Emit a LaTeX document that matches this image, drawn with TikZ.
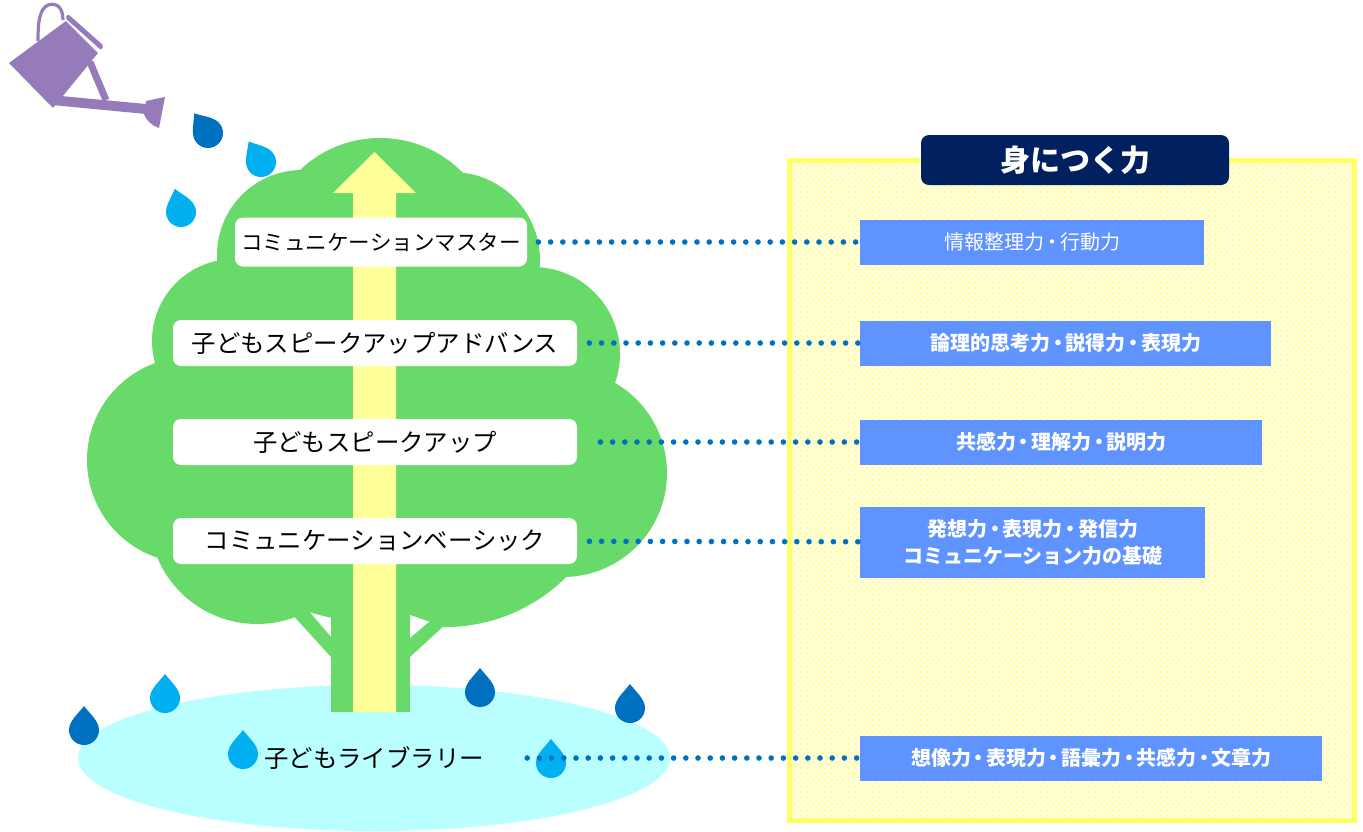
\documentclass[tikz,border=0pt]{standalone}
\usepackage{fontspec}
\setmainfont{Noto Sans CJK JP}
\usetikzlibrary{patterns}

\definecolor{leaf}{RGB}{103,218,106}
\definecolor{shaft}{RGB}{255,255,153}
\definecolor{pond}{RGB}{185,255,255}
\definecolor{dropdark}{RGB}{0,112,192}
\definecolor{droplight}{RGB}{0,176,240}
\definecolor{skillblue}{RGB}{95,147,255}
\definecolor{navy}{RGB}{0,32,96}
\definecolor{panelyellow}{RGB}{255,255,102}
\definecolor{canpurple}{RGB}{150,123,186}

\def\skillx{860}
\newcommand\nakaten{\kern-0.12em・\kern-0.12em}

\tikzset{pics/raindrop/.style={code={
  \fill[#1] (0pt,12pt) .. controls (3pt,8pt) and (7.5pt,4.5pt) .. (7.5pt,0pt)
    arc[start angle=0, end angle=-180, radius=7.5pt]
    .. controls (-7.5pt,4.5pt) and (-3pt,8pt) .. (0pt,12pt) -- cycle;}}}

\begin{document}
\begin{tikzpicture}[x=0.5pt, y=-0.5pt]
        \tikzstyle{stage}=[fill=white, rounded corners=4pt, minimum height=23pt, minimum width=202pt, inner sep=0pt, font=\fontsize{12.2pt}{14pt}\selectfont]
        \tikzstyle{skill}=[fill=skillblue, anchor=west, minimum height=22.5pt, inner sep=0pt, align=center, text=white, font=\fontsize{10pt}{13.5pt}\selectfont\bfseries]
        \tikzstyle{dotline}=[draw=dropdark, line width=2.8pt, line cap=round, dash pattern=on 0pt off 6.1pt]

        \useasboundingbox (0,0) rectangle (1363,831);

        % panel on the right
        \fill[panelyellow!22] (789,160) rectangle (1354,820);
        \fill[pattern=crosshatch dots, pattern color=panelyellow] (789,160) rectangle (1354,820);
        \draw[panelyellow, line width=2.5pt] (789,160) rectangle (1354,820);
        \node[fill=navy, rounded corners=4pt, minimum width=154pt, minimum height=25pt, text=white, font=\fontsize{15pt}{18pt}\selectfont\bfseries] (head) at (1075,160) {身につく力};

        % pond, crown, trunk
        \fill[pond] (374,758) ellipse[x radius=296, y radius=73];
        \fill[leaf] (380,254) circle[radius=116] (302,255) circle[radius=85]
            (452,260) circle[radius=88] (234,341) circle[radius=82]
            (533,354) circle[radius=87] (190,460) circle[radius=103]
            (563,473) circle[radius=104] (257,516) circle[radius=108]
            (445,455) circle[radius=172] (375,560) ellipse[x radius=120, y radius=62];
        \fill[white] (315,618) -- (331,620) -- (331,637) -- cycle;
        \fill[white] (410,615) -- (430,622) -- (410,638) -- cycle;
        \fill[leaf] (290,612) -- (308,610) -- (331,637) -- (331,657) -- cycle;
        \fill[leaf] (410,638) -- (441,612) -- (459,612) -- (410,657) -- cycle;
        \fill[leaf] (331,600) rectangle (410,712);
        \fill[shaft] (353,712) -- (353,193) -- (333,193) -- (374.5,152) -- (416,193) -- (396,193) -- (396,712) -- cycle;

        % watering can
        \fill[canpurple] (9,63) -- (66,21) -- (98,53) -- (53,108) -- cycle;
        \fill[canpurple, rounded corners=1pt] (68,14) -- (104,46) -- (101,50) -- (65,18) -- cycle;
        \draw[canpurple, line width=1.6pt] (38,41) .. controls (38,24) and (39,9) .. (48,5) .. controls (57,2) and (63,8) .. (63,20);
        \draw[canpurple, line width=3.5pt] (90,62) -- (106,100);
        \fill[canpurple] (50,95) -- (146,104) -- (146,114) -- (52,105) -- cycle;
        \fill[canpurple] (146,101) -- (165,97) -- (159,128) .. controls (152,126) and (146,120) .. (144,114) -- cycle;

        \pic[rotate=35] at (208,133) {raindrop=dropdark};
        \pic[rotate=31] at (261,162) {raindrop=droplight};
        \pic[rotate=15] at (181,212) {raindrop=droplight};
        \pic at (84,730) {raindrop=dropdark};
        \pic at (165,698) {raindrop=droplight};
        \pic at (243,754) {raindrop=droplight};
        \pic at (480,692) {raindrop=dropdark};
        \pic at (630,708) {raindrop=dropdark};
        \pic at (551,763) {raindrop=droplight};

        % stages on the tree
        \node[stage, minimum width=146pt, minimum height=24.5pt, font=\fontsize{10.75pt}{12pt}\selectfont] (m1) at (381,242) {コミュニケーションマスター};
        \node[stage] (m2) at (375,343) {子どもスピークアップアドバンス};
        \node[stage] (m3) at (375,442) {子どもスピークアップ};
        \node[stage] (m4) at (375,541) {コミュニケーションベーシック};
        \node[inner sep=0pt, font=\fontsize{12.2pt}{14pt}\selectfont] (m5) at (374,758) {子どもライブラリー};

        % skills
        \node[skill, minimum width=172pt, font=\fontsize{10pt}{13.5pt}\selectfont] (s1) at (\skillx,242) {情報整理力\nakaten 行動力};
        \node[skill, minimum width=205.5pt] (s2) at (\skillx,343) {論理的思考力\nakaten 説得力\nakaten 表現力};
        \node[skill, minimum width=201pt] (s3) at (\skillx,442) {共感力\nakaten 理解力\nakaten 説明力};
        \node[skill, minimum width=172.5pt, minimum height=35.5pt] (s4) at (\skillx,542) {発想力\nakaten 表現力\nakaten 発信力\\コミュニケーション力の基礎};
        \node[skill, minimum width=231pt] (s5) at (\skillx,758) {想像力\nakaten 表現力\nakaten 語彙力\nakaten 共感力\nakaten 文章力};

        \path[dotline]
            (m1) edge[shorten <=5.5pt] (s1)
            (m2) edge[shorten <=6pt] (s2)
            (m3) edge[shorten <=11.5pt] (s3)
            (m4) edge[shorten <=6pt] (s4)
            (m5) edge[shorten <=21.5pt] (s5)
        ;
\end{tikzpicture}
\end{document}
